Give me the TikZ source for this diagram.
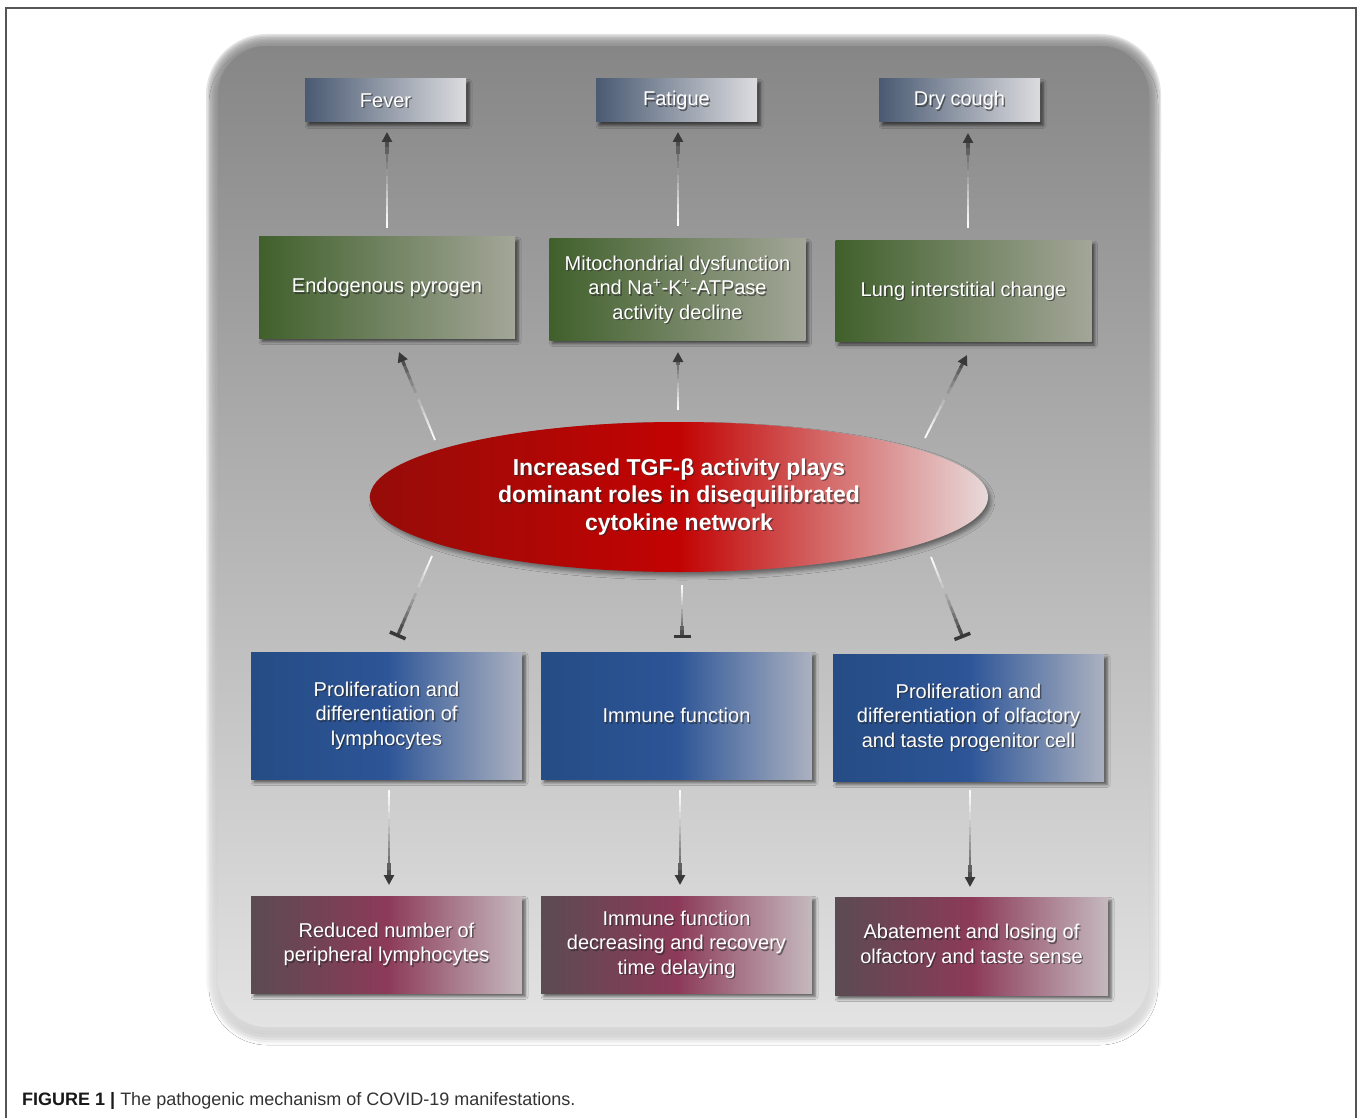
\documentclass[tikz,border=0pt]{standalone}
\usepackage{fontspec}
\setmainfont{Liberation Sans}
\usetikzlibrary{shadows,shadows.blur,calc,arrows.meta,shapes.geometric}
\definecolor{panelTop}{HTML}{868686}
\definecolor{panelBot}{HTML}{E4E4E4}
\definecolor{symL}{HTML}{4A5A72}
\definecolor{symR}{HTML}{DCDCDF}
\definecolor{grnL}{HTML}{40602B}
\definecolor{grnR}{HTML}{A3A698}
\definecolor{bluL}{HTML}{254C84}
\definecolor{bluM}{HTML}{2D5597}
\definecolor{bluR}{HTML}{ABB1C0}
\definecolor{marL}{HTML}{5B4B52}
\definecolor{marM}{HTML}{8C3A58}
\definecolor{marR}{HTML}{C5B9BE}
\definecolor{redL}{HTML}{960C08}
\definecolor{redM}{HTML}{C20303}
\definecolor{redR}{HTML}{E8D9D9}
\definecolor{lightline}{HTML}{FAFAFA}
\definecolor{darkline}{HTML}{4E4E4E}
\definecolor{tipcol}{HTML}{383838}
\definecolor{framecol}{HTML}{555555}

\newcommand\gconn[3]{%
  \foreach \gi in {0,...,11}{%
    \pgfmathsetmacro\gpa{\gi/13}%
    \pgfmathsetmacro\gpb{(\gi+1)/13+0.012}%
    \pgfmathtruncatemacro\gpc{100*(\gi/11)^1.2}%
    \pgfmathsetmacro\gpw{1.8+1.4*\gi/11}%
    \draw[conn, line width=\gpw pt, draw=darkline!\gpc!lightline] ($(#1)!\gpa!(#2)$) -- ($(#1)!\gpb!(#2)$);
  }%
  \draw[conn, line width=3.2pt, draw=darkline, #3] ($(#1)!0.9!(#2)$) -- (#2);
}
\newcommand\shlabel[3][]{%
  \node[txt,#1,text=black!85,opacity=0.6] (#2-sh) at ([xshift=1.4pt,yshift=-1.4pt]#2.center) {#3};
  \node[txt,#1] (#2-t) at (#2.center) {#3};
}

\begin{document}
\begin{tikzpicture}[x=1pt,y=-1pt,
  boxbase/.style={rectangle, inner sep=0pt, blur shadow={shadow xshift=3pt,shadow yshift=-3.5pt,shadow blur radius=3pt,shadow opacity=60}},
  symbox/.style={boxbase, minimum width=161pt, minimum height=43pt, left color=symL, right color=symR},
  grnbox/.style={boxbase, minimum width=256pt, minimum height=101pt, left color=grnL, right color=grnR},
  blubox/.style={boxbase, minimum width=271pt, minimum height=127pt, left color=bluL, right color=bluR, middle color=bluM},
  marbox/.style={boxbase, minimum width=271pt, minimum height=97pt, left color=marL, right color=marR, middle color=marM},
  txt/.style={align=center, text=white, font=\fontsize{20}{24.5}\selectfont, inner sep=0pt},
  btxt/.style={font=\bfseries\fontsize{23}{27.5}\selectfont},
  conn/.style={line width=2.6pt, line cap=butt},
  arrowtip/.style={-{Triangle[length=10pt,width=10pt,color=tipcol]}},
  bartip/.style={-{Bar[width=17pt,line width=3.5pt,color=tipcol]}},
]
\useasboundingbox (0,0) rectangle (1360,1118);
\fill[white] (0,0) rectangle (1360,1118);
\draw[line width=1.3pt, framecol] (6,1120) -- (6,8) -- (1356,8) -- (1356,1120);

% panel with soft edges
\shade[rounded corners=49pt, top color=panelTop, bottom color=panelBot,
  blur shadow={shadow xshift=0pt,shadow yshift=-9pt,shadow blur radius=9pt,shadow opacity=40}]
  (218,46) rectangle (1149,1027);
\foreach \k in {1,...,8}{%
  \pgfmathsetmacro\dd{-6+\k*1.5}%
  \shade[rounded corners=55pt+\dd pt, top color=panelTop, bottom color=panelBot, opacity=0.22]
    (212-\dd,40-\dd) rectangle (1155+\dd,1033+\dd);
}

% symptom boxes
\node[symbox] (fever) at (385.5,100.5) {};
\node[symbox] (fatigue) at (676.5,100.5) {};
\node[symbox] (cough) at (959.5,100.5) {};
% green boxes
\node[grnbox] (endo) at (387,287.5) {};
\node[grnbox] (mito) at (677.5,289.5) {};
\node[grnbox] (lung) at (963.5,291) {};
% ellipse
\node[ellipse, minimum width=618pt, minimum height=150pt, inner sep=0pt,
  left color=redL, right color=redR, middle color=redM,
  blur shadow={shadow xshift=3pt,shadow yshift=-4pt,shadow blur radius=4pt,shadow opacity=45}] (tgf) at (679,497) {};
% blue boxes
\node[blubox] (prolif) at (386.5,715.5) {};
\node[blubox] (immune) at (676.5,715.5) {};
\node[blubox] (olf) at (968.5,717.5) {};
% maroon boxes
\node[marbox] (reduced) at (386.5,944.5) {};
\node[marbox] (immdec) at (676.5,944.5) {};
\node[marbox, minimum width=273pt, minimum height=98pt] (abate) at (971.5,946) {};

% connector end points
\coordinate (a1s) at (387,228); \coordinate (a1e) at (387,132);
\coordinate (a2s) at (678,226); \coordinate (a2e) at (678,132);
\coordinate (a3s) at (968,228); \coordinate (a3e) at (968,133);
\coordinate (b1s) at (435,440); \coordinate (b1e) at (399,352);
\coordinate (b2s) at (678,410); \coordinate (b2e) at (678,352);
\coordinate (b3s) at (925,438); \coordinate (b3e) at (967,355);
\coordinate (c1s) at (432,556); \coordinate (c1e) at (397,637);
\coordinate (c2s) at (682,585); \coordinate (c2e) at (682,638);
\coordinate (c3s) at (931,557); \coordinate (c3e) at (963,638);
\coordinate (d1s) at (389,790); \coordinate (d1e) at (389,885);
\coordinate (d2s) at (680,790); \coordinate (d2e) at (680,885);
\coordinate (d3s) at (970,790); \coordinate (d3e) at (970,887);

\gconn{a1s}{a1e}{arrowtip}
\gconn{a2s}{a2e}{arrowtip}
\gconn{a3s}{a3e}{arrowtip}
\gconn{b1s}{b1e}{arrowtip}
\gconn{b2s}{b2e}{arrowtip}
\gconn{b3s}{b3e}{arrowtip}
\gconn{c1s}{c1e}{bartip}
\gconn{c2s}{c2e}{bartip}
\gconn{c3s}{c3e}{bartip}
\gconn{d1s}{d1e}{arrowtip}
\gconn{d2s}{d2e}{arrowtip}
\gconn{d3s}{d3e}{arrowtip}

% labels
\shlabel{fever}{Fever}
\shlabel{fatigue}{Fatigue}
\shlabel{cough}{Dry cough}
\shlabel{endo}{Endogenous pyrogen}
\shlabel{mito}{Mitochondrial dysfunction\\and Na\textsuperscript{+}-K\textsuperscript{+}-ATPase\\activity decline}
\shlabel{lung}{Lung interstitial change}
\shlabel[btxt]{tgf}{Increased TGF-β activity plays\\dominant roles in disequilibrated\\cytokine network}
\shlabel{prolif}{Proliferation and\\differentiation of\\lymphocytes}
\shlabel{immune}{Immune function}
\shlabel{olf}{Proliferation and\\differentiation of olfactory\\and taste progenitor cell}
\shlabel{reduced}{Reduced number of\\peripheral lymphocytes}
\shlabel{immdec}{Immune function\\decreasing and recovery\\time delaying}
\shlabel{abate}{Abatement and losing of\\olfactory and taste sense}

% caption
\node[anchor=west, inner sep=0pt, font=\fontsize{18}{21}\selectfont, text=black!80] (cap) at (22,1101)
  {\textbf{\color{black!90}FIGURE 1 |} The pathogenic mechanism of COVID-19 manifestations.};
\end{tikzpicture}
\end{document}
